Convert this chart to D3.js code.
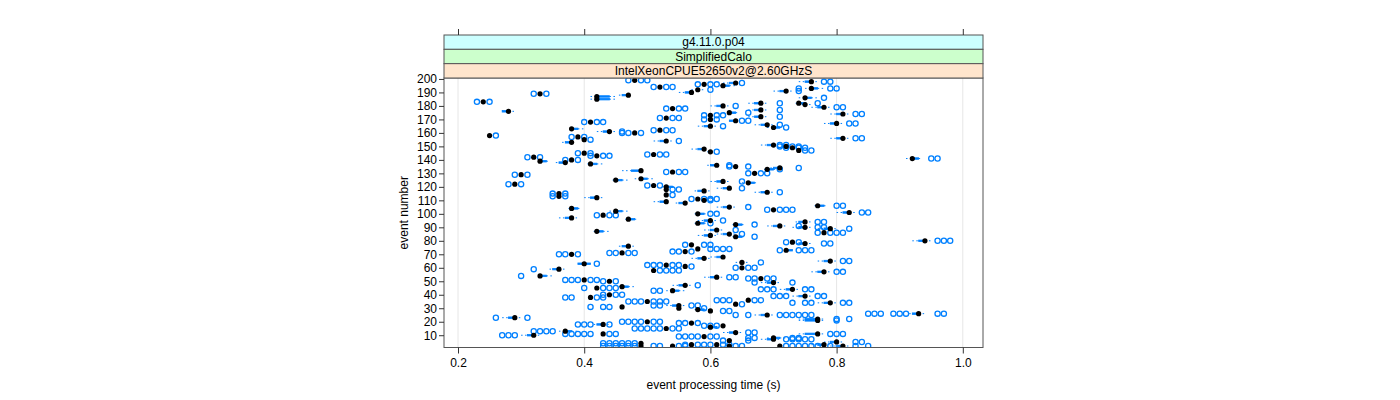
<!DOCTYPE html>
<html><head><meta charset="utf-8">
<script src="https://cdn.jsdelivr.net/npm/d3@7"></script>
<style>
body{margin:0;background:#fff}
text{font-family:"Liberation Sans",Arial,Helvetica,sans-serif;font-size:12px;fill:#000}
</style>
</head><body>
<svg id="chart" width="1400" height="400"></svg>
<script>
// ---------- data ----------
const xTicks = [0.2, 0.4, 0.6, 0.8, 1.0];
const yTicks = [10,20,30,40,50,60,70,80,90,100,110,120,130,140,150,160,170,180,190,200];
const stripLabels = ["g4.11.0.p04", "SimplifiedCalo", "IntelXeonCPUE52650v2@2.60GHzS"];
const stripColors = ["#ccffff", "#ccffcc", "#ffe5cc"];
const xTitle = "event processing time (s)";
const yTitle = "event number";

const eventNo = [199,198,197,196,195,194,193,192,191,190,
189,188,187,186,185,183,182,182,181,180,
179,178,177,176,175,174,173,172,171,170,
169,168,167,166,165,164,163,162,161,160,
158,157,156,155,154,153,151,150,149,148,
147,146,145,144,143,142,141,140,139,138,
137,136,135,134,133,132,131,130,129,126,
125,124,123,122,121,120,119,118,117,116,
115,114,113,112,111,110,109,108,106,105,
104,103,102,101,100,99,97,96,95,94,
93,92,91,90,89,88,87,86,85,84,
83,80,79,78,77,76,74,73,72,71,
70,68,67,65,64,63,62,61,60,59,
58,57,54,53,52,51,50,49,47,46,
45,44,43,40,39,38,36,35,34,33,
32,31,30,29,28,26,25,23,22,21,
20,19,18,17,16,15,13,12,11,11,
10,9,8,7,6,5,4,3,3,3,
2,2,2,2,2];

const medianTime = [0.48,0.76,0.64,0.59,0.62,0.52,0.76,0.58,0.72,0.57,
0.33,0.47,0.42,0.75,0.42,0.24,0.68,0.74,0.75,0.62,
0.78,0.54,0.68,0.28,0.63,0.81,0.60,0.68,0.53,0.60,
0.64,0.41,0.80,0.69,0.60,0.70,0.38,0.52,0.44,0.48,
0.25,0.39,0.81,0.40,0.53,0.38,0.70,0.72,0.73,0.59,
0.74,0.60,0.40,0.51,0.42,0.32,0.92,0.38,0.33,0.37,
0.41,0.61,0.64,0.71,0.69,0.49,0.54,0.67,0.30,0.49,
0.45,0.62,0.66,0.29,0.51,0.53,0.63,0.53,0.59,0.69,
0.36,0.53,0.36,0.42,0.58,0.59,0.53,0.56,0.77,0.63,
0.38,0.70,0.45,0.82,0.58,0.43,0.38,0.47,0.60,0.75,
0.58,0.64,0.71,0.75,0.79,0.61,0.42,0.78,0.63,0.60,
0.64,0.94,0.73,0.75,0.57,0.47,0.58,0.72,0.56,0.46,
0.38,0.62,0.59,0.79,0.65,0.40,0.53,0.56,0.65,0.36,
0.51,0.78,0.33,0.61,0.68,0.40,0.44,0.70,0.56,0.46,
0.42,0.73,0.54,0.44,0.75,0.41,0.66,0.50,0.79,0.64,
0.55,0.46,0.55,0.58,0.60,0.93,0.69,0.29,0.77,0.77,
0.50,0.57,0.43,0.62,0.60,0.53,0.37,0.64,0.43,0.77,
0.32,0.59,0.70,0.70,0.63,0.80,0.49,0.61,0.57,0.78,
0.49,0.54,0.63,0.71,0.81];

const boxQuartiles = [[0.48,0.48],[0.75,0.76],[0.63,0.64],[0.59,0.59],[0.62,0.63],[0.52,0.52],[0.76,0.77],[0.58,0.58],[0.71,0.72],[0.56,0.57],
[0.33,0.33],[0.46,0.47],[0.42,0.44],[0.75,0.76],[0.42,0.44],[0.24,0.24],[0.67,0.68],[0.74,0.75],[0.75,0.75],[0.61,0.62],
[0.77,0.78],[0.54,0.54],[0.67,0.68],[0.27,0.28],[0.63,0.64],[0.80,0.81],[0.60,0.60],[0.67,0.68],[0.53,0.53],[0.60,0.60],
[0.63,0.64],[0.41,0.41],[0.79,0.80],[0.68,0.69],[0.59,0.60],[0.70,0.71],[0.38,0.39],[0.52,0.52],[0.43,0.44],[0.48,0.48],
[0.25,0.25],[0.39,0.39],[0.80,0.81],[0.40,0.40],[0.52,0.53],[0.37,0.38],[0.69,0.70],[0.72,0.72],[0.73,0.73],[0.58,0.59],
[0.74,0.74],[0.60,0.60],[0.40,0.40],[0.51,0.51],[0.42,0.42],[0.32,0.32],[0.92,0.93],[0.38,0.38],[0.33,0.34],[0.36,0.37],
[0.41,0.42],[0.60,0.61],[0.64,0.64],[0.70,0.71],[0.69,0.70],[0.475,0.49],[0.54,0.54],[0.67,0.67],[0.30,0.30],[0.49,0.50],
[0.45,0.46],[0.61,0.62],[0.66,0.67],[0.29,0.29],[0.51,0.51],[0.53,0.54],[0.62,0.63],[0.53,0.53],[0.58,0.59],[0.68,0.69],
[0.36,0.36],[0.53,0.53],[0.36,0.36],[0.41,0.42],[0.58,0.58],[0.59,0.59],[0.52,0.53],[0.55,0.56],[0.77,0.78],[0.62,0.63],
[0.38,0.39],[0.70,0.70],[0.45,0.46],[0.81,0.82],[0.58,0.59],[0.43,0.43],[0.37,0.38],[0.47,0.48],[0.59,0.60],[0.74,0.75],
[0.58,0.59],[0.64,0.65],[0.70,0.71],[0.74,0.75],[0.78,0.79],[0.60,0.61],[0.42,0.43],[0.78,0.78],[0.62,0.63],[0.59,0.60],
[0.64,0.65],[0.93,0.94],[0.73,0.73],[0.74,0.75],[0.57,0.57],[0.46,0.47],[0.58,0.58],[0.72,0.73],[0.56,0.56],[0.46,0.46],
[0.38,0.38],[0.61,0.62],[0.58,0.59],[0.78,0.79],[0.65,0.65],[0.39,0.41],[0.53,0.53],[0.56,0.56],[0.65,0.65],[0.35,0.36],
[0.51,0.51],[0.77,0.78],[0.33,0.34],[0.60,0.61],[0.68,0.68],[0.40,0.40],[0.44,0.44],[0.69,0.70],[0.55,0.56],[0.46,0.47],
[0.42,0.42],[0.72,0.73],[0.54,0.55],[0.44,0.44],[0.74,0.75],[0.41,0.41],[0.66,0.66],[0.50,0.50],[0.78,0.79],[0.64,0.64],
[0.54,0.55],[0.46,0.46],[0.55,0.55],[0.58,0.59],[0.60,0.60],[0.92,0.93],[0.68,0.69],[0.28,0.29],[0.75,0.77],[0.75,0.77],
[0.50,0.50],[0.57,0.57],[0.42,0.43],[0.62,0.62],[0.60,0.61],[0.53,0.53],[0.37,0.38],[0.63,0.64],[0.43,0.43],[0.75,0.77],
[0.31,0.32],[0.59,0.59],[0.70,0.71],[0.69,0.70],[0.63,0.63],[0.79,0.80],[0.49,0.49],[0.61,0.61],[0.57,0.57],[0.77,0.78],
[0.49,0.49],[0.54,0.54],[0.63,0.63],[0.71,0.71],[0.80,0.81]];

const whiskerEnds = [[0.48,0.48],[0.74,0.77],[0.62,0.645],[0.59,0.59],[0.615,0.64],[0.52,0.52],[0.75,0.78],[0.57,0.59],[0.70,0.73],[0.55,0.575],
[0.33,0.33],[0.455,0.475],[0.41,0.45],[0.74,0.77],[0.41,0.45],[0.24,0.24],[0.66,0.69],[0.735,0.755],[0.745,0.76],[0.60,0.63],
[0.76,0.79],[0.54,0.54],[0.66,0.69],[0.27,0.29],[0.62,0.645],[0.79,0.82],[0.60,0.60],[0.66,0.69],[0.53,0.53],[0.60,0.60],
[0.63,0.64],[0.41,0.41],[0.78,0.81],[0.67,0.70],[0.58,0.61],[0.69,0.715],[0.38,0.40],[0.52,0.52],[0.42,0.45],[0.48,0.48],
[0.25,0.25],[0.39,0.39],[0.79,0.82],[0.40,0.40],[0.51,0.54],[0.365,0.385],[0.68,0.705],[0.72,0.72],[0.73,0.73],[0.57,0.595],
[0.74,0.74],[0.595,0.605],[0.40,0.40],[0.51,0.51],[0.42,0.42],[0.32,0.32],[0.91,0.935],[0.38,0.38],[0.33,0.345],[0.355,0.375],
[0.405,0.43],[0.595,0.615],[0.64,0.64],[0.695,0.715],[0.685,0.705],[0.46,0.495],[0.54,0.54],[0.67,0.67],[0.30,0.30],[0.48,0.51],
[0.445,0.47],[0.60,0.63],[0.65,0.675],[0.29,0.29],[0.51,0.51],[0.525,0.545],[0.61,0.635],[0.53,0.53],[0.575,0.60],[0.67,0.70],
[0.36,0.36],[0.53,0.53],[0.36,0.36],[0.40,0.43],[0.58,0.58],[0.59,0.59],[0.51,0.535],[0.545,0.565],[0.765,0.785],[0.61,0.64],
[0.375,0.395],[0.70,0.70],[0.44,0.47],[0.80,0.83],[0.575,0.595],[0.43,0.43],[0.36,0.39],[0.465,0.485],[0.58,0.61],[0.735,0.76],
[0.575,0.595],[0.635,0.655],[0.69,0.72],[0.73,0.76],[0.77,0.80],[0.59,0.62],[0.415,0.44],[0.78,0.78],[0.61,0.64],[0.58,0.61],
[0.635,0.655],[0.92,0.95],[0.73,0.73],[0.73,0.76],[0.57,0.57],[0.455,0.48],[0.58,0.58],[0.72,0.73],[0.56,0.56],[0.46,0.46],
[0.38,0.38],[0.60,0.625],[0.57,0.60],[0.77,0.80],[0.64,0.66],[0.39,0.41],[0.53,0.53],[0.56,0.56],[0.65,0.65],[0.345,0.37],
[0.51,0.51],[0.76,0.79],[0.33,0.35],[0.59,0.62],[0.68,0.68],[0.40,0.40],[0.44,0.44],[0.68,0.71],[0.54,0.57],[0.455,0.48],
[0.42,0.42],[0.71,0.74],[0.53,0.56],[0.44,0.44],[0.73,0.76],[0.41,0.41],[0.66,0.66],[0.50,0.50],[0.77,0.80],[0.64,0.64],
[0.53,0.56],[0.46,0.46],[0.55,0.55],[0.575,0.60],[0.60,0.60],[0.915,0.94],[0.67,0.70],[0.27,0.30],[0.74,0.78],[0.74,0.78],
[0.50,0.50],[0.57,0.57],[0.415,0.44],[0.62,0.62],[0.595,0.615],[0.53,0.53],[0.36,0.39],[0.62,0.65],[0.43,0.43],[0.74,0.78],
[0.30,0.33],[0.59,0.59],[0.69,0.72],[0.68,0.71],[0.63,0.63],[0.78,0.81],[0.49,0.49],[0.61,0.61],[0.57,0.57],[0.76,0.79],
[0.49,0.49],[0.54,0.54],[0.63,0.63],[0.71,0.71],[0.79,0.82]];

const outlierTimes = [[0.47,0.49,0.50],[0.78,0.79],[0.65],[0.58,0.60,0.61],[],[0.51,0.53,0.54],[0.74,0.79,0.80],[0.60],[0.74],[],
[0.32,0.34],[],[],[0.78],[],[0.23,0.25],[0.71],[0.77],[],[0.64],
[0.80,0.81],[0.53,0.55,0.56],[0.71],[],[0.66],[0.83,0.84],[0.59,0.61,0.62],[0.71],[0.52,0.54,0.55],[0.59,0.61],
[0.65,0.66],[0.40,0.42,0.43],[0.82,0.83],[0.71],[0.62],[0.72],[],[0.51,0.53,0.54],[0.46],[0.46,0.47,0.49],
[0.26],[0.38,0.40],[0.83,0.84],[0.41],[0.55],[],[0.71,0.72],[0.71,0.73,0.74],[0.72,0.74,0.75],[],
[0.75,0.76],[0.61],[0.39,0.41],[0.50,0.52,0.53],[0.41,0.43,0.44],[0.31,0.33],[0.95,0.96],[0.37,0.39],[],[],
[],[0.63],[0.63,0.66],[0.74],[0.71],[],[0.53,0.55,0.56],[0.66,0.68,0.69],[0.29,0.31],[],
[],[0.65],[],[0.28,0.30],[0.50,0.52],[],[0.65],[0.54,0.55],[],[0.71],
[0.35,0.37],[0.54],[0.35,0.37],[],[0.57,0.59,0.60,0.61],[0.60],[],[],[0.80,0.81],[0.66],
[],[0.69,0.71,0.72,0.73],[],[0.84,0.85],[0.60,0.61],[0.42,0.44,0.45],[],[],[0.62],[0.77,0.78],
[0.60],[0.67],[0.74],[0.77,0.78],[0.82],[0.64],[],[0.77,0.79,0.80,0.81],[0.65],[],
[0.67],[0.96,0.97,0.98],[0.72,0.74],[0.78,0.79],[0.56,0.59,0.60],[],[0.60,0.61,0.62,0.63],[0.71,0.74,0.75,0.76],[0.54,0.55,0.57],[0.44,0.45,0.47,0.48],
[0.36,0.37,0.39],[],[],[0.81,0.82],[0.68],[0.42],[0.50,0.51,0.52,0.54,0.55],[0.57],[0.64,0.66,0.67],[0.32],
[0.52,0.53,0.54,0.55],[0.80,0.81],[0.30],[0.63,0.64],[0.66,0.67,0.69,0.70],[0.37,0.38,0.39,0.41,0.42],[0.43,0.45],[0.67,0.73],[0.58],[],
[0.40,0.43,0.44,0.45],[0.68,0.69,0.70,0.75,0.76],[0.51,0.52],[0.43,0.45,0.46],[0.70,0.71,0.72,0.77,0.78],[0.37,0.38,0.42,0.43],[0.61,0.62,0.63,0.67,0.68],[0.47,0.48,0.49,0.51,0.52,0.53],[0.73,0.75,0.76,0.81,0.82],[0.65],
[0.51,0.52,0.57,0.58],[0.41,0.43,0.44],[0.59],[],[0.62,0.63],[0.85,0.86,0.87,0.89,0.90,0.91,0.96,0.97],[0.64,0.66,0.71,0.72,0.73,0.74,0.75,0.76],[0.26,0.31],[0.80,0.82],[0.80],
[0.46,0.47,0.48,0.49,0.51,0.52],[0.55,0.56,0.58],[0.39,0.40,0.41,0.44],[0.59,0.60,0.61],[],[0.48,0.49,0.50,0.51,0.52,0.54,0.55],[0.32,0.33,0.34,0.35],[0.66,0.67],[0.37,0.38,0.39,0.40,0.41,0.44,0.45],[0.79,0.80,0.81],
[0.27,0.28,0.29],[0.55,0.56,0.57,0.58,0.60,0.61],[0.66,0.67,0.73,0.74],[0.72,0.73,0.74,0.75,0.76],[0.62,0.66],[0.83,0.84],[0.43,0.44,0.45,0.46,0.47,0.48],[0.58,0.59,0.60,0.62,0.63],[0.56],[],
[0.43,0.44,0.45,0.46,0.47,0.48,0.51,0.52],[0.55,0.56],[0.64,0.65],[0.72,0.73,0.74,0.75,0.76,0.77,0.79],[0.83,0.85]];

// ---------- layout ----------
const svg = d3.select("#chart");
const P = {l: 444, r: 983, t: 78, b: 347.5};
const stripTop = 35, stripH = (P.t - stripTop) / 3;
const blue = "#0080ff", frame = "#555";

const x = d3.scaleLinear().domain([0.1778, 1.032]).range([P.l, P.r]);
const y = d3.scaleLinear().domain([0.9, 200.7]).range([P.b, P.t]);

svg.append("defs").append("clipPath").attr("id", "pclip")
  .append("rect").attr("x", P.l).attr("y", P.t).attr("width", P.r - P.l).attr("height", P.b - P.t);

// grid
svg.append("g").selectAll("line").data(xTicks).join("line")
  .attr("x1", d => x(d)).attr("x2", d => x(d)).attr("y1", P.t).attr("y2", P.b)
  .attr("stroke", "#e6e6e6").attr("stroke-width", 1);

const rows = eventNo.map((e, i) => ({e, med: medianTime[i], q: boxQuartiles[i], w: whiskerEnds[i], out: outlierTimes[i]}));
const g = svg.append("g").attr("clip-path", "url(#pclip)");

// whiskers
rows.forEach(r => {
  const yy = y(r.e);
  if (r.w[0] < r.q[0]) g.append("line").attr("x1", x(r.w[0])).attr("x2", x(r.q[0])).attr("y1", yy).attr("y2", yy)
    .attr("stroke", blue).attr("stroke-width", 1).attr("stroke-dasharray", "1.5,2.5");
  if (r.w[1] > r.q[1]) g.append("line").attr("x1", x(r.q[1])).attr("x2", x(r.w[1])).attr("y1", yy).attr("y2", yy)
    .attr("stroke", blue).attr("stroke-width", 1).attr("stroke-dasharray", "1.5,2.5");
});
// boxes
g.append("g").selectAll("rect").data(rows).join("rect")
  .attr("x", d => x(d.q[0])).attr("width", d => x(d.q[1]) - x(d.q[0]))
  .attr("y", d => y(d.e) - 0.75).attr("height", 1.5)
  .attr("fill", blue).attr("stroke", blue).attr("stroke-width", 0.8);
// outliers
const outs = rows.flatMap(r => r.out.map(v => ({e: r.e, v})));
g.append("g").selectAll("circle").data(outs).join("circle")
  .attr("cx", d => x(d.v)).attr("cy", d => y(d.e)).attr("r", 2.6)
  .attr("fill", "none").attr("stroke", blue).attr("stroke-width", 1.3);
// medians
g.append("g").selectAll("circle").data(rows).join("circle")
  .attr("cx", d => x(d.med)).attr("cy", d => y(d.e)).attr("r", 2.6).attr("fill", "#000");

// panel border
svg.append("rect").attr("x", P.l).attr("y", P.t).attr("width", P.r - P.l).attr("height", P.b - P.t)
  .attr("fill", "none").attr("stroke", frame).attr("stroke-width", 1);

// strips
stripLabels.forEach((lab, i) => {
  const sy = stripTop + i * stripH;
  svg.append("rect").attr("x", P.l).attr("y", sy).attr("width", P.r - P.l).attr("height", stripH)
    .attr("fill", stripColors[i]).attr("stroke", frame).attr("stroke-width", 1);
  svg.append("text").attr("x", (P.l + P.r) / 2).attr("y", sy + stripH / 2 + 4.3)
    .attr("text-anchor", "middle").text(lab);
});

// axes
const xb = svg.append("g").attr("transform", `translate(0,${P.b})`)
  .call(d3.axisBottom(x).tickValues(xTicks).tickSize(6).tickPadding(5).tickFormat(d3.format(".1f")));
const xt = svg.append("g").attr("transform", `translate(0,${stripTop})`)
  .call(d3.axisTop(x).tickValues(xTicks).tickSize(6).tickFormat(""));
const yl = svg.append("g").attr("transform", `translate(${P.l},0)`)
  .call(d3.axisLeft(y).tickValues(yTicks).tickSize(5).tickPadding(2));
[xb, xt, yl].forEach(a => {
  a.select(".domain").remove();
  a.selectAll(".tick line").attr("stroke", "#333");
  a.selectAll("text").attr("font-size", 12).attr("font-family", '"Liberation Sans",Arial,sans-serif').attr("fill", "#000");
});

// titles
svg.append("text").attr("x", (P.l + P.r) / 2).attr("y", 389).attr("text-anchor", "middle").text(xTitle);
svg.append("text").attr("transform", `translate(408,${(P.t + P.b) / 2}) rotate(-90)`)
  .attr("text-anchor", "middle").text(yTitle);
</script>
</body></html>
